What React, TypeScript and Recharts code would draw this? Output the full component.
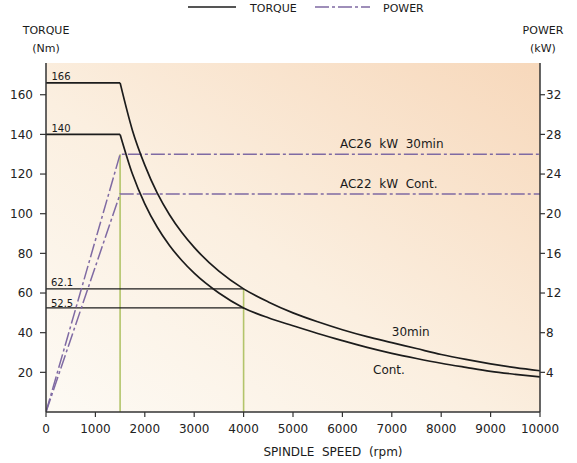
import React from 'react';
import { LineChart, Line, XAxis, YAxis, ReferenceArea, ReferenceDot } from 'recharts';

const FONT = '"DejaVu Sans", "Liberation Sans", sans-serif';

// Axis ticks
const speedTicks = [0, 1000, 2000, 3000, 4000, 5000, 6000, 7000, 8000, 9000, 10000];
const torqueTicks = [20, 40, 60, 80, 100, 120, 140, 160];
const powerTicks = [4, 8, 12, 16, 20, 24, 28, 32];

// Torque curves (constant power region)
const curveSpeeds = [1500, 1750, 2000, 2250, 2500, 2750, 3000, 3500, 4000, 4500, 5000, 5500, 6000, 6500, 7000, 7500, 8000, 8500, 9000, 9500, 10000];
const torque30min = [166, 142, 124.5, 110.5, 99.5, 90.5, 83, 71, 62.1, 55.5, 50, 45.5, 41.5, 38, 35, 32, 29, 26.5, 24.3, 22.4, 20.8];
const torqueCont = [140, 120, 105, 93.3, 84, 76.4, 70, 60, 52.5, 47.5, 43.5, 39.6, 36, 32.6, 29.6, 27, 24.6, 22.5, 20.5, 19, 17.7];

// Constant-torque plateaus and marker levels
const plateauSpeeds = [0, 1500];
const markerSpeeds = [0, 4000];
const rated30 = 166;
const ratedCont = 140;
const at4000_30 = 62.1;
const at4000Cont = 52.5;

// Power curves
const powerSpeeds = [0, 1500, 10000];
const power30min = [0, 26, 26];
const powerCont = [0, 22, 22];

// Guide verticals
const guide1500 = { speed: 1500, power: 26 };
const guide4000 = { speed: 4000, torque: 62.1 };

// Annotations (data coordinates on speed / torque scales)
const annotations = [
  { text: '166', s: 110, t: 169.2, size: 10 },
  { text: '140', s: 110, t: 143, size: 10 },
  { text: '62.1', s: 100, t: 65.5, size: 10 },
  { text: '52.5', s: 100, t: 54.8, size: 10 },
  { text: 'AC26  kW  30min', s: 5950, t: 135.2, size: 12 },
  { text: 'AC22  kW  Cont.', s: 5950, t: 115.1, size: 12 },
  { text: '30min', s: 7000, t: 40.2, size: 12 },
  { text: 'Cont.', s: 6620, t: 21.1, size: 12 },
];

const toPts = (xs: number[], ys: number[], key: string) => xs.map((x, i) => ({ s: x, [key]: ys[i] }));
const flat = (xs: number[], v: number) => xs.map((x) => ({ s: x, t: v }));

const BLACK = '#1c1c1c';
const PURPLE = '#7f6aa3';
const GREEN = '#b3c46a';
const AXIS = '#333';

const AnnText = (text: string, size: number) => (props: any) => {
  const vb = props.viewBox || {};
  const x = vb.x !== undefined ? vb.x + (vb.width || 0) / 2 : 0;
  const y = vb.y !== undefined ? vb.y + (vb.height || 0) / 2 : 0;
  return (
    <text x={x} y={y} fontSize={size} fontFamily={FONT} fill="#1a1a1a" textAnchor="start" dominantBaseline="central" style={{ whiteSpace: 'pre' }}>
      {text}
    </text>
  );
};

export default function App() {
  const tickStyle = { fill: '#222', fontSize: 12, fontFamily: FONT };
  return (
    <div style={{ position: 'absolute', left: 0, top: 0, width: 577, height: 463, background: '#fff', fontFamily: FONT }}>
      <LineChart width={577} height={463} margin={{ top: 63, right: 1, bottom: 21, left: 6 }}>
        <defs>
          <linearGradient id="bgGrad" x1="0" y1="1" x2="1" y2="0">
            <stop offset="0" stopColor="#fdfaf4" />
            <stop offset="0.45" stopColor="#fbefe0" />
            <stop offset="1" stopColor="#f7d8bb" />
          </linearGradient>
        </defs>
        <XAxis
          type="number"
          dataKey="s"
          domain={[0, 10000]}
          ticks={speedTicks}
          allowDataOverflow
          height={30}
          tickSize={5}
          tickMargin={7}
          tick={tickStyle}
          axisLine={{ stroke: AXIS, strokeWidth: 1.5 }}
          tickLine={{ stroke: AXIS, strokeWidth: 1.2 }}
        />
        <YAxis
          yAxisId="t"
          type="number"
          domain={[0, 176]}
          ticks={torqueTicks}
          allowDataOverflow
          width={40}
          tickSize={6}
          tickMargin={7}
          tick={tickStyle}
          axisLine={{ stroke: AXIS, strokeWidth: 1.5 }}
          tickLine={{ stroke: AXIS, strokeWidth: 1.2 }}
        />
        <YAxis
          yAxisId="p"
          orientation="right"
          type="number"
          domain={[0, 35.2]}
          ticks={powerTicks}
          allowDataOverflow
          width={36}
          tickSize={5}
          tickMargin={1}
          tick={tickStyle}
          axisLine={{ stroke: AXIS, strokeWidth: 1.5 }}
          tickLine={{ stroke: AXIS, strokeWidth: 1.2 }}
        />
        <ReferenceArea yAxisId="t" x1={0} x2={10000} y1={0} y2={176} fill="url(#bgGrad)" fillOpacity={1} stroke="none" ifOverflow="visible" />

        <Line yAxisId="p" data={toPts([guide1500.speed, guide1500.speed], [0, guide1500.power], 'p')} dataKey="p" stroke={GREEN} strokeWidth={1.6} dot={false} activeDot={false} isAnimationActive={false} />
        <Line yAxisId="t" data={toPts([guide4000.speed, guide4000.speed], [0, guide4000.torque], 't')} dataKey="t" stroke={GREEN} strokeWidth={1.6} dot={false} activeDot={false} isAnimationActive={false} />

        <Line yAxisId="t" data={flat(plateauSpeeds, rated30)} dataKey="t" stroke={BLACK} strokeWidth={1.6} dot={false} activeDot={false} isAnimationActive={false} />
        <Line yAxisId="t" data={flat(plateauSpeeds, ratedCont)} dataKey="t" stroke={BLACK} strokeWidth={1.6} dot={false} activeDot={false} isAnimationActive={false} />
        <Line yAxisId="t" data={flat(markerSpeeds, at4000_30)} dataKey="t" stroke={BLACK} strokeWidth={1.4} dot={false} activeDot={false} isAnimationActive={false} />
        <Line yAxisId="t" data={flat(markerSpeeds, at4000Cont)} dataKey="t" stroke={BLACK} strokeWidth={1.4} dot={false} activeDot={false} isAnimationActive={false} />

        <Line yAxisId="p" type="linear" data={toPts(powerSpeeds, power30min, 'p')} dataKey="p" stroke={PURPLE} strokeWidth={1.5} strokeDasharray="14 3 3 3" dot={false} activeDot={false} isAnimationActive={false} />
        <Line yAxisId="p" type="linear" data={toPts(powerSpeeds, powerCont, 'p')} dataKey="p" stroke={PURPLE} strokeWidth={1.5} strokeDasharray="14 3 3 3" dot={false} activeDot={false} isAnimationActive={false} />

        <Line yAxisId="t" type="monotone" data={toPts(curveSpeeds, torque30min, 't')} dataKey="t" stroke={BLACK} strokeWidth={1.7} dot={false} activeDot={false} isAnimationActive={false} />
        <Line yAxisId="t" type="monotone" data={toPts(curveSpeeds, torqueCont, 't')} dataKey="t" stroke={BLACK} strokeWidth={1.7} dot={false} activeDot={false} isAnimationActive={false} />

        {annotations.map((a) => (
          <ReferenceDot key={a.text} yAxisId="t" x={a.s} y={a.t} r={0} fill="none" stroke="none" ifOverflow="visible" label={{ content: AnnText(a.text, a.size) } as any} />
        ))}
      </LineChart>

      <svg width={577} height={463} style={{ position: 'absolute', left: 0, top: 0, pointerEvents: 'none' }}>
        <g fontFamily={FONT} fill="#1a1a1a">
          <line x1={188} y1={7} x2={236} y2={7} stroke={BLACK} strokeWidth={1.6} />
          <text x={250} y={8} fontSize={11} dominantBaseline="central">TORQUE</text>
          <line x1={315} y1={7} x2={370} y2={7} stroke={PURPLE} strokeWidth={1.5} strokeDasharray="14 3 3 3" />
          <text x={383} y={8} fontSize={11} dominantBaseline="central">POWER</text>

          <text x={46} y={30} fontSize={11} textAnchor="middle" dominantBaseline="central">TORQUE</text>
          <text x={46} y={48} fontSize={11} textAnchor="middle" dominantBaseline="central">(Nm)</text>
          <text x={543} y={30} fontSize={11} textAnchor="middle" dominantBaseline="central">POWER</text>
          <text x={543} y={48} fontSize={11} textAnchor="middle" dominantBaseline="central">(kW)</text>

          <text x={333} y={452} fontSize={12} textAnchor="middle" dominantBaseline="central" style={{ whiteSpace: 'pre' }}>SPINDLE  SPEED  (rpm)</text>
        </g>
      </svg>
    </div>
  );
}
